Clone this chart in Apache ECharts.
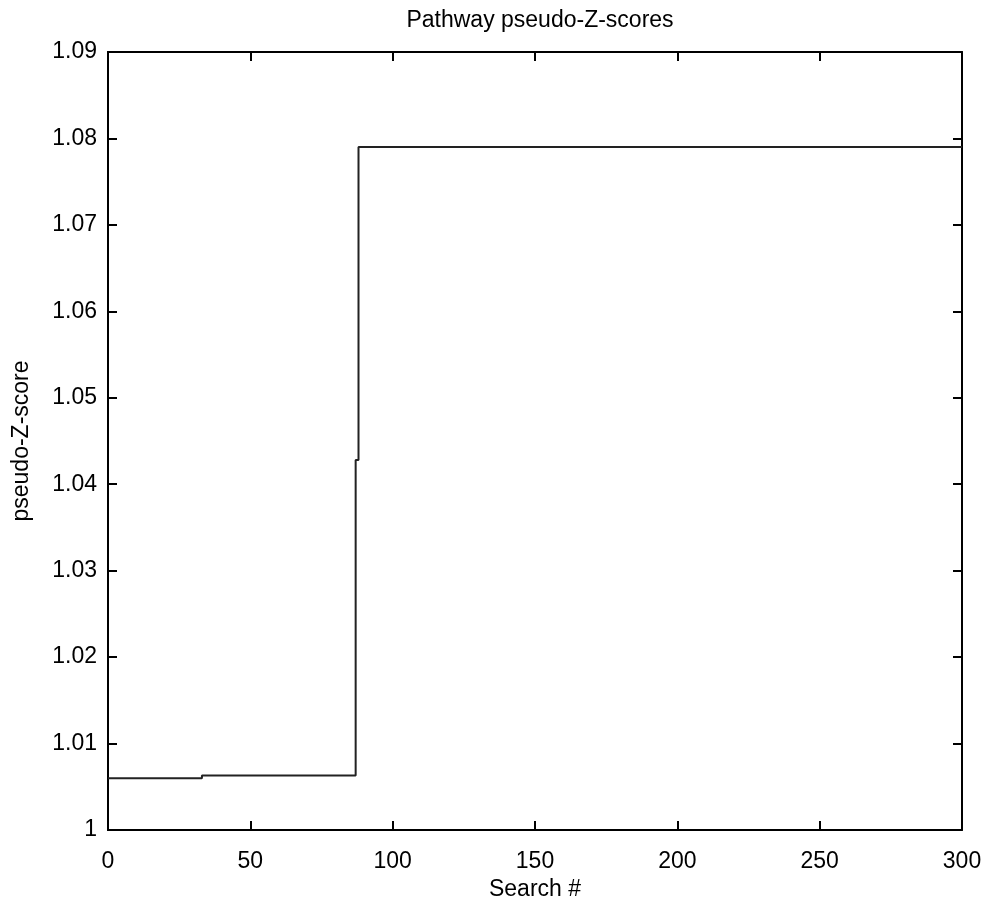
<!DOCTYPE html>
<html>
<head>
<meta charset="utf-8">
<script src="https://cdn.jsdelivr.net/npm/echarts@6/dist/echarts.min.js"></script>
<style>html,body{margin:0;padding:0;background:#fff}#c{width:988px;height:909px}</style>
</head>
<body>
<div id="c"></div>
<script>
var titleText = 'Pathway pseudo-Z-scores';
var xLabel = 'Search #';
var yLabel = 'pseudo-Z-score';
var searchNum = [0, 33, 33, 87, 87, 88, 88, 300];
var zScore = [1.0060, 1.0060, 1.0063, 1.0063, 1.0428, 1.0428, 1.0790, 1.0790];
var xTicks = [0, 50, 100, 150, 200, 250, 300];
var yTicks = [1, 1.01, 1.02, 1.03, 1.04, 1.05, 1.06, 1.07, 1.08, 1.09];

var font = 'Liberation Sans';
var fs = 23;
var chart = echarts.init(document.getElementById('c'));
var data = searchNum.map(function (x, i) { return [x, zScore[i]]; });
function axLine(onZero) { return { show: true, onZero: onZero, lineStyle: { color: '#000', width: 2 } }; }
function tick() { return { show: true, inside: true, length: 9, lineStyle: { color: '#000', width: 2 } }; }
var gridBox = { left: 108, right: 26, top: 52, bottom: 79, containLabel: false, outerBoundsMode: 'none' };
var xMin = xTicks[0], xMax = xTicks[xTicks.length - 1];
var yMin = yTicks[0], yMax = yTicks[yTicks.length - 1];
chart.setOption({
  animation: false,
  backgroundColor: '#fff',
  title: {
    text: titleText, left: 535, top: 4, textAlign: 'center',
    textStyle: { fontFamily: font, fontSize: fs, fontWeight: 'normal', color: '#000' }
  },
  grid: [Object.assign({}, gridBox), Object.assign({}, gridBox), Object.assign({}, gridBox)],
  xAxis: [{
    gridIndex: 0, type: 'value', min: xMin, max: xMax, interval: 50,
    position: 'bottom',
    name: xLabel, nameLocation: 'middle', nameGap: 41,
    nameTextStyle: { fontFamily: font, fontSize: fs, color: '#000' },
    axisLine: axLine(false), axisTick: tick(), splitLine: { show: false },
    axisLabel: { margin: 20, fontFamily: font, fontSize: fs, color: '#000' }
  }, {
    gridIndex: 1, type: 'value', min: xMin, max: xMax, interval: 50,
    position: 'top', axisLine: axLine(false), axisTick: tick(), splitLine: { show: false },
    axisLabel: { show: false }
  }, {
    gridIndex: 2, type: 'value', min: xMin, max: xMax, interval: 50,
    position: 'bottom', axisLine: { show: false }, axisTick: { show: false },
    splitLine: { show: false }, axisLabel: { show: false }
  }],
  yAxis: [{
    gridIndex: 0, type: 'value', min: yMin, max: yMax, interval: 0.01,
    position: 'left',
    name: yLabel, nameLocation: 'middle', nameGap: 75, nameRotate: 90,
    nameTextStyle: { fontFamily: font, fontSize: fs, color: '#000' },
    axisLine: { show: true, lineStyle: { color: '#000', width: 2 } },
    axisTick: tick(), splitLine: { show: false },
    axisLabel: {
      margin: 11, fontFamily: font, fontSize: fs, color: '#000',
      formatter: function (v) { return String(Math.round(v * 100) / 100); }
    }
  }, {
    gridIndex: 1, type: 'value', min: yMin, max: yMax, interval: 0.01,
    position: 'right', axisLine: axLine(false), axisTick: tick(), splitLine: { show: false },
    axisLabel: { show: false }
  }, {
    gridIndex: 2, type: 'value', min: yMin, max: yMax, interval: 0.01,
    position: 'left',
    axisLine: { show: true, lineStyle: { color: '#000', width: 2 } },
    axisTick: tick(), splitLine: { show: false },
    axisLabel: { show: false }
  }],
  series: [{
    type: 'line', data: data, xAxisIndex: 0, yAxisIndex: 0,
    showSymbol: false, symbol: 'none',
    lineStyle: { color: '#222', width: 2 }
  }]
});
</script>
</body>
</html>
